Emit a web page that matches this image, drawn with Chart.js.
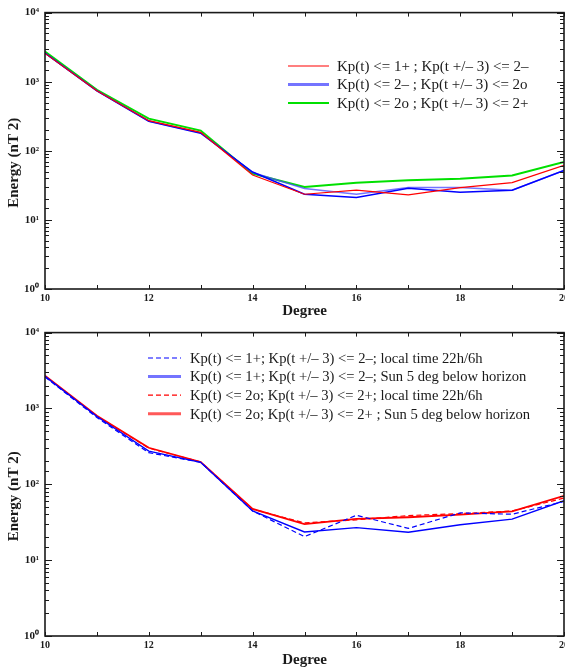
<!DOCTYPE html>
<html lang="en">
<head>
  <meta charset="UTF-8">
  <title>Energy vs Degree</title>
  <script src="https://cdn.jsdelivr.net/npm/chart.js"></script>
  <style>
    html, body {
      margin: 0;
      padding: 0;
      background: #fff;
      width: 565px;
      height: 671px;
      overflow: hidden;
    }
    .panel {
      position: absolute;
      left: 0;
    }
  </style>
</head>
<body>
  <div class="panel" style="top:0;width:572px;height:320px"><canvas id="topChart"></canvas></div>
  <div class="panel" style="top:320px;width:572px;height:351px"><canvas id="bottomChart"></canvas></div>

<script>
  const degrees = [10, 11, 12, 13, 14, 15, 16, 17, 18, 19, 20];
  const yTicks = [1, 10, 100, 1000, 10000];
  const yTickLabels = ['10\u2070', '10\u00b9', '10\u00b2', '10\u00b3', '10\u2074'];

  // upper panel: Kp selections
  const kp1p = [2570, 738, 273, 185, 44.7, 23.5, 26.9, 23.0, 29.4, 34.7, 61.5];
  const kp2m = [2600, 738, 268, 180, 49.3, 23.5, 21.1, 28.7, 25.1, 26.9, 52.0];
  const kp2mAlt = [2600, 745, 270, 182, 48.5, 28.4, 23.5, 29.4, 29.4, 26.9, 52.0];
  const kp2o = [2720, 764, 292, 196, 46.7, 30.0, 34.6, 37.4, 39.5, 44.0, 68.7];

  // lower panel: night-time selections
  const kp1pLocal = [2600, 760, 261, 195, 44.5, 20.4, 39.1, 26.2, 42.0, 40.3, 59.4];
  const kp1pSun = [2650, 783, 274, 195, 44.5, 23.5, 26.8, 23.3, 29.3, 34.7, 60.7];
  const kp2oLocal = [2650, 790, 300, 197, 47.0, 31.0, 34.0, 38.7, 41.1, 44.5, 65.8];
  const kp2oSun = [2700, 800, 303, 197, 47.3, 29.9, 35.0, 36.8, 39.9, 44.0, 70.5];

  const topLabels = [
    'Kp(t) <= 1+ ; Kp(t +/\u2013 3) <= 2\u2013',
    'Kp(t) <= 2\u2013 ; Kp(t +/\u2013 3) <= 2o',
    'Kp(t) <= 2o ; Kp(t +/\u2013 3) <= 2+'
  ];
  const bottomLabels = [
    'Kp(t) <= 1+; Kp(t +/\u2013 3) <= 2\u2013; local time 22h/6h',
    'Kp(t) <= 1+; Kp(t +/\u2013 3) <= 2\u2013; Sun 5 deg below horizon',
    'Kp(t) <= 2o; Kp(t +/\u2013 3) <= 2+; local time 22h/6h',
    'Kp(t) <= 2o; Kp(t +/\u2013 3) <= 2+ ; Sun 5 deg below horizon'
  ];

  const serif = '"Liberation Serif", "Times New Roman", serif';
  const ink = '#1a1a1a';

  const pts = arr => degrees.map((d, i) => ({ x: d, y: arr[i] }));

  function line(label, arr, color, width, dash, legend) {
    return {
      label: label,
      data: pts(arr),
      borderColor: color,
      borderWidth: width,
      borderDash: dash || [],
      pointRadius: 0,
      tension: 0,
      fill: false,
      legendStyle: legend
    };
  }

  // frame, inward ticks, y title and the legend rows
  const decorate = {
    id: 'decorate',
    afterDraw(chart, args, opts) {
      const { ctx, chartArea: a, scales } = chart;
      ctx.save();
      ctx.strokeStyle = ink;

      ctx.lineWidth = 1;
      scales.y.ticks.forEach(t => {
        const y = Math.round(scales.y.getPixelForValue(t.value)) + 0.5;
        const lg = Math.log10(t.value);
        const len = Math.abs(lg - Math.round(lg)) < 1e-9 ? 7 : 4;
        ctx.beginPath();
        ctx.moveTo(a.left, y); ctx.lineTo(a.left + len, y);
        ctx.moveTo(a.right, y); ctx.lineTo(a.right - len, y);
        ctx.stroke();
      });
      scales.x.ticks.forEach(t => {
        const x = Math.round(scales.x.getPixelForValue(t.value)) + 0.5;
        const len = 4;
        ctx.beginPath();
        ctx.moveTo(x, a.bottom); ctx.lineTo(x, a.bottom - len);
        ctx.moveTo(x, a.top); ctx.lineTo(x, a.top + len);
        ctx.stroke();
      });

      ctx.lineWidth = 1.6;
      ctx.strokeRect(a.left, a.top, a.width, a.height);

      // rotated y title
      ctx.fillStyle = ink;
      ctx.font = 'bold 15px ' + serif;
      ctx.textAlign = 'center';
      ctx.textBaseline = 'middle';
      ctx.translate(14, (a.top + a.bottom) / 2 + opts.titleShift);
      ctx.rotate(-Math.PI / 2);
      ctx.fillText('Energy (nT 2)', 0, 0);
      ctx.setTransform(1, 0, 0, 1, 0, 0);

      // legend rows
      const L = opts.legend;
      ctx.font = L.size + 'px ' + serif;
      ctx.textAlign = 'left';
      let row = 0;
      chart.data.datasets.forEach(ds => {
        if (!ds.legendStyle) return;
        const y = L.y + row * L.gap;
        ctx.beginPath();
        ctx.strokeStyle = ds.legendStyle.color;
        ctx.lineWidth = ds.legendStyle.width;
        ctx.setLineDash(ds.borderDash);
        ctx.moveTo(L.x, y);
        ctx.lineTo(L.x + L.len, y);
        ctx.stroke();
        ctx.setLineDash([]);
        ctx.fillStyle = ink;
        ctx.fillText(ds.label, L.x + L.len + L.textGap, y + 1);
        row++;
      });
      ctx.restore();
    }
  };

  function options(padTop, axisHeight, titlePad, legend, titleShift) {
    return {
      responsive: true,
      maintainAspectRatio: false,
      animation: false,
      layout: { padding: { top: padTop, right: 0, left: 0, bottom: 0 } },
      plugins: {
        legend: { display: false },
        tooltip: { enabled: false },
        decorate: { legend: legend, titleShift: titleShift }
      },
      scales: {
        x: {
          type: 'linear',
          min: 10,
          max: 20,
          grid: { display: false, drawTicks: false },
          border: { display: false },
          ticks: {
            stepSize: 1,
            autoSkip: false,
            maxRotation: 0,
            padding: 3,
            color: ink,
            font: { family: serif, size: 10, weight: 'bold' },
            callback: v => (v % 2 === 0 ? String(v) : '')
          },
          title: {
            display: true,
            text: 'Degree',
            color: ink,
            padding: { top: 0, bottom: titlePad },
            font: { family: serif, size: 15, weight: 'bold' }
          },
          afterFit: s => { s.height = axisHeight; }
        },
        y: {
          type: 'logarithmic',
          min: 1,
          max: 10000,
          grid: { display: false, drawTicks: false },
          border: { display: false },
          ticks: {
            autoSkip: false,
            padding: 6,
            color: ink,
            font: { family: serif, size: 11, weight: 'bold' },
            callback: v => {
              const i = yTicks.indexOf(v);
              return i >= 0 ? yTickLabels[i] : '';
            }
          },
          afterFit: s => { s.width = 45; }
        }
      }
    };
  }

  const lightBlue = 'rgba(70, 70, 255, 0.75)';

  new Chart(document.getElementById('topChart'), {
    type: 'line',
    data: {
      datasets: [
        line(topLabels[0], kp1p, '#ff0000', 1.2, null, { color: '#ff0000', width: 1.2 }),
        line(topLabels[1], kp2m, '#0000ff', 1.5, null, { color: lightBlue, width: 3 }),
        line('', kp2mAlt, lightBlue, 1.5, null, null),
        line(topLabels[2], kp2o, '#00e000', 2, null, { color: '#00e000', width: 2 })
      ]
    },
    options: options(10, 31, 0, { x: 288, y: 66, gap: 18.5, len: 41, textGap: 8, size: 15 }, 12),
    plugins: [decorate]
  });

  new Chart(document.getElementById('bottomChart'), {
    type: 'line',
    data: {
      datasets: [
        line(bottomLabels[0], kp1pLocal, '#0000ff', 1.2, [5, 3], { color: '#0000ff', width: 1.2 }),
        line(bottomLabels[1], kp1pSun, '#0000ff', 1.4, null, { color: lightBlue, width: 3 }),
        line(bottomLabels[2], kp2oLocal, '#ff0000', 1.2, [5, 3], { color: '#ff0000', width: 1.2 }),
        line(bottomLabels[3], kp2oSun, '#ff0000', 1.8, null, { color: 'rgba(255, 60, 60, 0.85)', width: 3 })
      ]
    },
    options: options(9, 35, 2, { x: 148, y: 38, gap: 18.6, len: 33, textGap: 9, size: 14.6 }, 12),
    plugins: [decorate]
  });
</script>
</body>
</html>
